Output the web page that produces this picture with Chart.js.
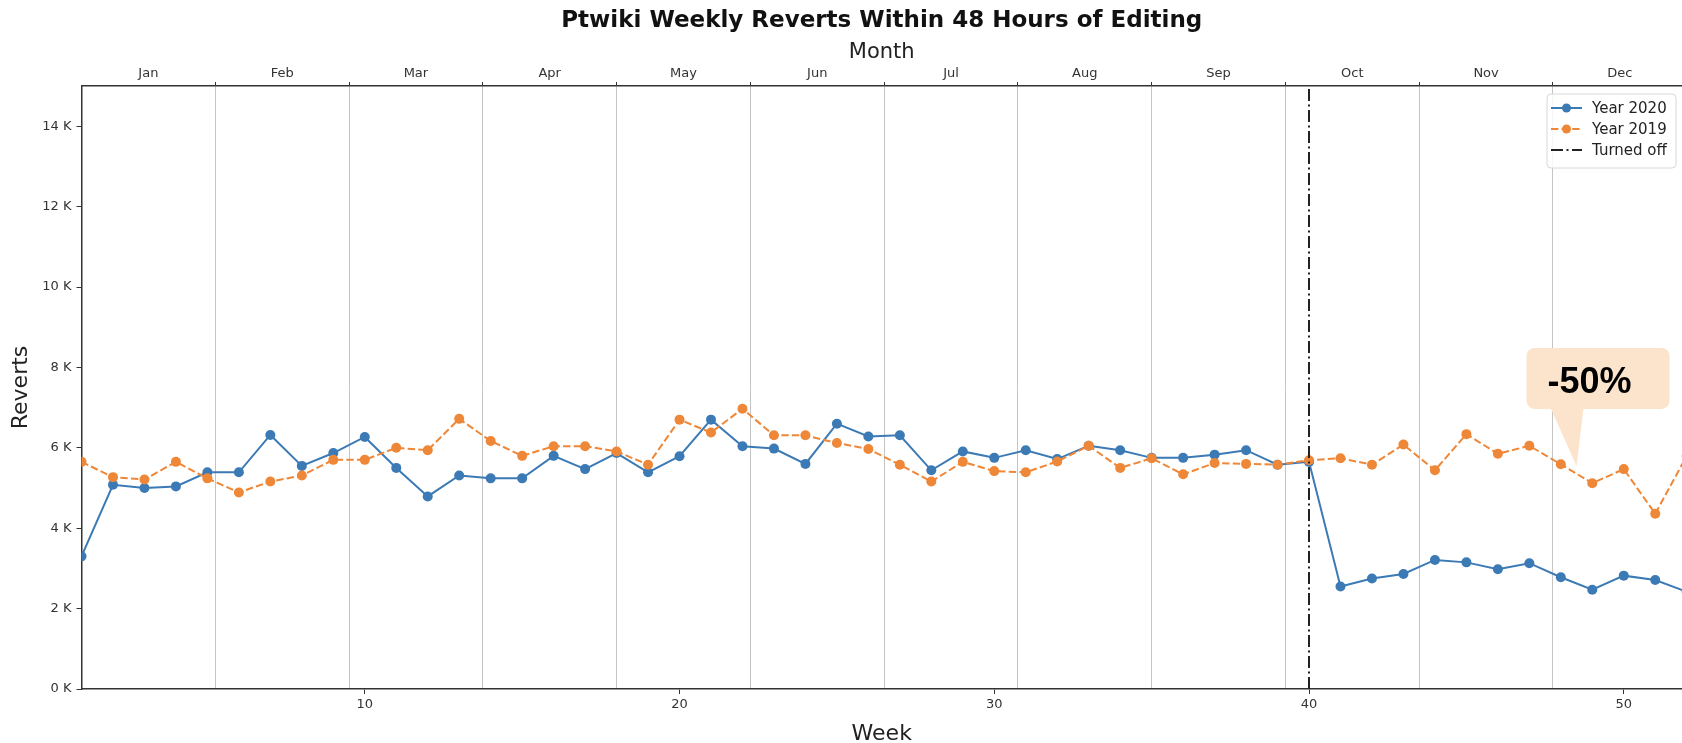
<!DOCTYPE html>
<html>
<head>
<meta charset="utf-8">
<script src="https://cdn.jsdelivr.net/npm/chart.js@4/dist/chart.umd.min.js"></script>
<style>
  html, body { margin: 0; padding: 0; background: #fff; overflow: hidden; }
  #wrap { width: 1682px; height: 743px; }
  canvas { display: block; }
</style>
</head>
<body>
<div id="wrap"><canvas id="chart" width="1682" height="743"></canvas></div>
<script>
// week numbers on the bottom axis
const weeks = [1, 2, 3, 4, 5, 6, 7, 8, 9, 10, 11, 12, 13, 14, 15, 16, 17, 18, 19, 20,
  21, 22, 23, 24, 25, 26, 27, 28, 29, 30, 31, 32, 33, 34, 35, 36, 37, 38, 39, 40,
  41, 42, 43, 44, 45, 46, 47, 48, 49, 50, 51, 52]

// weekly reverts
const reverts2020 = [3300, 5080, 5000, 5040, 5390, 5390, 6320, 5550, 5870, 6270,
  5500, 4790, 5310, 5240, 5240, 5800, 5470, 5870, 5390, 5790,
  6700, 6040, 5980, 5600, 6600, 6280, 6310, 5440, 5910, 5750,
  5940, 5720, 6050, 5940, 5750, 5750, 5830, 5940, 5580, 5650,
  2550, 2750, 2860, 3210, 3150, 2980, 3130, 2780, 2470, 2820,
  2710, 2420]
const reverts2019 = [5650, 5270, 5210, 5650, 5240, 4890, 5160, 5310, 5700, 5700,
  6000, 5940, 6720, 6170, 5800, 6040, 6040, 5910, 5580, 6700,
  6380, 6970, 6310, 6310, 6120, 5970, 5580, 5160, 5650, 5420,
  5390, 5660, 6050, 5500, 5740, 5340, 5620, 5600, 5580, 5690,
  5740, 5580, 6080, 5440, 6340, 5850, 6050, 5590, 5120, 5470,
  4360, 5800]

const turnedOffWeek = 40
const weekTicks = [10, 20, 30, 40, 50]
const yTicks = [0, 2000, 4000, 6000, 8000, 10000, 12000, 14000]

// top axis: months spread evenly over the weeks
const months = ['Jan', 'Feb', 'Mar', 'Apr', 'May', 'Jun', 'Jul', 'Aug', 'Sep', 'Oct', 'Nov', 'Dec']
const monthEdges = [5.25, 9.5, 13.75, 18, 22.25, 26.5, 30.75, 35, 39.25, 43.5, 47.75]
const monthCenters = [3.125, 7.375, 11.625, 15.875, 20.125, 24.375, 28.625, 32.875, 37.125, 41.375, 45.625, 49.875]

const callout = { week: 48.5, value: 5550, text: '-50%' }

const BLUE = '#3b7ab5'
const ORANGE = '#ef8738'
const AXIS = '#333333'
const X_MIN = 1
const X_MAX = 51.85

Chart.defaults.font.family = "'DejaVu Sans', sans-serif"
Chart.defaults.color = AXIS

const toPoints = vals => weeks.map((w, i) => ({ x: w, y: vals[i] }))

const legendBox = {
  id: 'legendBox',
  afterDraw(chart) {
    const { ctx, chartArea } = chart
    const right = chartArea.right - 6
    const left = right - 129
    const top = chartArea.top + 8
    const h = 74
    ctx.save()
    ctx.beginPath()
    ctx.roundRect(left, top, right - left, h, 4)
    ctx.fillStyle = 'rgba(255,255,255,0.85)'
    ctx.fill()
    ctx.strokeStyle = '#d8d8d8'
    ctx.lineWidth = 1
    ctx.stroke()

    chart.data.datasets.forEach((ds, i) => {
      const cy = top + 14 + i * 21
      ctx.beginPath()
      ctx.setLineDash(ds.borderDash || [])
      ctx.strokeStyle = ds.borderColor
      ctx.lineWidth = 2
      ctx.moveTo(left + 4, cy)
      ctx.lineTo(left + 35, cy)
      ctx.stroke()
      ctx.setLineDash([])
      if (ds.pointRadius > 0) {
        ctx.beginPath()
        ctx.arc(left + 19.5, cy, 4.5, 0, Math.PI * 2)
        ctx.fillStyle = ds.borderColor
        ctx.fill()
      }
      ctx.fillStyle = '#222'
      ctx.font = "15px 'DejaVu Sans'"
      ctx.textBaseline = 'middle'
      ctx.textAlign = 'left'
      ctx.fillText(ds.label, left + 45, cy + 1)
    })
    ctx.restore()
  }
}

const calloutBox = {
  id: 'calloutBox',
  afterDraw(chart) {
    const { ctx, scales } = chart
    const tx = scales.x.getPixelForValue(callout.week)
    const ty = scales.y.getPixelForValue(callout.value)
    const l = tx - 50, r = tx + 93, t = ty - 118, b = ty - 57
    ctx.save()
    ctx.fillStyle = '#fce4cc'
    ctx.beginPath()
    ctx.roundRect(l, t, r - l, b - t, 8)
    ctx.fill()
    ctx.beginPath()
    ctx.moveTo(tx - 26, b - 1)
    ctx.lineTo(tx + 7, b - 1)
    ctx.lineTo(tx, ty)
    ctx.closePath()
    ctx.fill()
    ctx.fillStyle = '#000'
    ctx.font = "bold 36px 'Liberation Sans', Arial, sans-serif"
    ctx.textAlign = 'center'
    ctx.textBaseline = 'alphabetic'
    ctx.fillText(callout.text, tx + 13, ty - 73)
    ctx.restore()
  }
}

new Chart(document.getElementById('chart').getContext('2d'), {
  type: 'line',
  data: {
    datasets: [
      {
        label: 'Year 2020',
        data: toPoints(reverts2020),
        borderColor: BLUE,
        backgroundColor: BLUE,
        borderWidth: 2,
        pointRadius: 5,
        pointBorderWidth: 0,
        pointBackgroundColor: BLUE,
        tension: 0,
        clip: 0,
        order: 2
      },
      {
        label: 'Year 2019',
        data: toPoints(reverts2019),
        borderColor: ORANGE,
        backgroundColor: ORANGE,
        borderWidth: 2,
        borderDash: [7.4, 3.2],
        pointRadius: 5,
        pointBorderWidth: 0,
        pointBackgroundColor: ORANGE,
        tension: 0,
        clip: 0,
        order: 1
      },
      {
        label: 'Turned off',
        data: [{ x: turnedOffWeek, y: 0 }, { x: turnedOffWeek, y: 15000 }],
        borderColor: '#222222',
        borderWidth: 2,
        borderDash: [12, 3.5, 2, 3.5],
        pointRadius: 0,
        clip: 0,
        order: 0
      }
    ]
  },
  options: {
    responsive: false,
    animation: false,
    devicePixelRatio: 1,
    layout: { padding: 0, autoPadding: false },
    plugins: {
      legend: { display: false },
      tooltip: { enabled: false },
      title: {
        display: true,
        fullSize: false,
        text: 'Ptwiki Weekly Reverts Within 48 Hours of Editing',
        color: '#111',
        font: { size: 23, weight: 'bold', lineHeight: 1.2 },
        padding: { top: 7, bottom: 0 }
      }
    },
    scales: {
      x: {
        type: 'linear',
        position: 'bottom',
        min: X_MIN,
        max: X_MAX,
        afterBuildTicks: s => { s.ticks = weekTicks.map(v => ({ value: v })) },
        afterFit: s => { s.height = 54 },
        ticks: { font: { size: 13 }, padding: 3, maxRotation: 0, autoSkip: false },
        grid: { drawOnChartArea: false, tickLength: 5, tickColor: AXIS, tickWidth: 1 },
        border: { color: AXIS, width: 1.5 },
        title: {
          display: true, text: 'Week', color: '#222',
          font: { size: 22, lineHeight: 0.8 }, padding: { top: 0, bottom: 0 }
        }
      },
      x2: {
        type: 'linear',
        position: 'top',
        min: X_MIN,
        max: X_MAX,
        afterBuildTicks: s => {
          s.ticks = monthEdges.concat(monthCenters).sort((a, b) => a - b).map(v => ({ value: v }))
        },
        afterFit: s => { s.height = 51.4 },
        ticks: {
          font: { size: 13 }, padding: 1, maxRotation: 0, autoSkip: false,
          callback: v => { const i = monthCenters.indexOf(v); return i >= 0 ? months[i] : '' }
        },
        grid: {
          drawOnChartArea: true,
          tickLength: 4,
          lineWidth: 1,
          color: c => monthEdges.includes(c.tick && c.tick.value) ? '#c4c4c4' : 'rgba(0,0,0,0)',
          tickColor: c => monthEdges.includes(c.tick && c.tick.value) ? AXIS : 'rgba(0,0,0,0)'
        },
        border: { color: AXIS, width: 1.5 },
        title: {
          display: true, text: 'Month', color: '#222',
          font: { size: 21, lineHeight: 1.2 }, padding: { top: 5.8, bottom: 0 }
        }
      },
      y: {
        type: 'linear',
        min: 0,
        max: 15000,
        afterBuildTicks: s => { s.ticks = yTicks.map(v => ({ value: v })) },
        afterFit: s => { s.width = 81.5 },
        ticks: { font: { size: 13 }, padding: 5, callback: v => (v / 1000) + ' K' },
        grid: { drawOnChartArea: false, tickLength: 5, tickColor: AXIS },
        border: { color: AXIS, width: 1.5 },
        title: {
          display: true, text: 'Reverts', color: '#222',
          font: { size: 22, lineHeight: 1.2 }, padding: { top: 8, bottom: 0 }
        }
      }
    }
  },
  plugins: [legendBox, calloutBox]
})
</script>
</body>
</html>
